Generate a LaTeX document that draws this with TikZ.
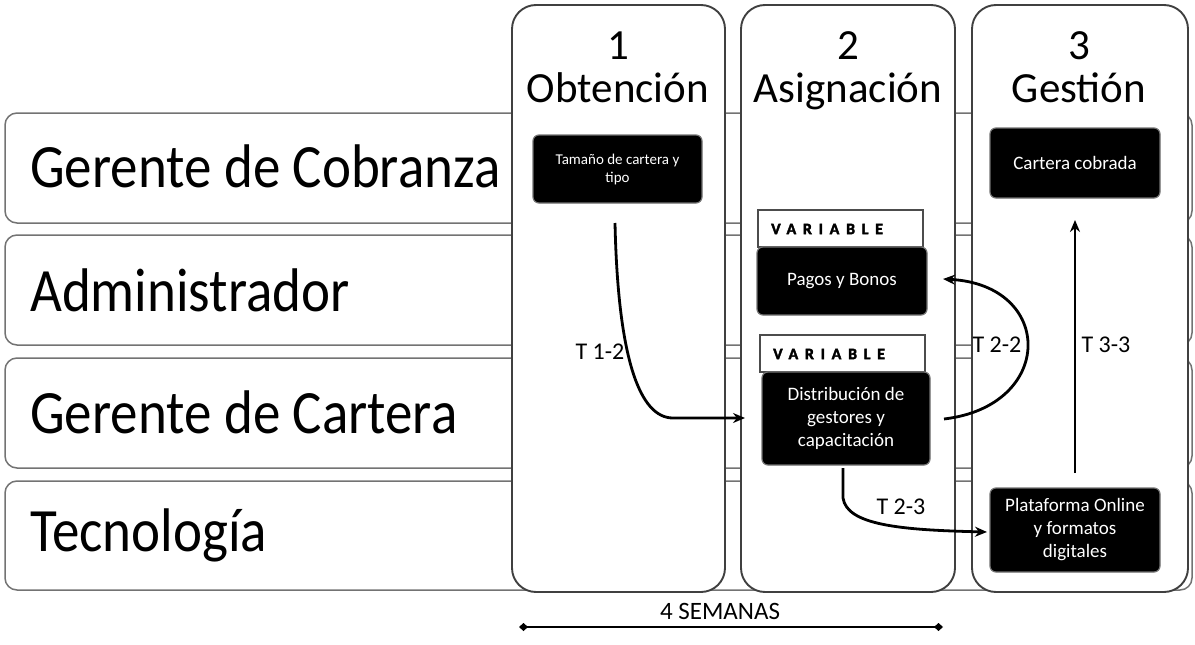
\documentclass[tikz,border=0pt]{standalone}
\usepackage{fontspec}
\setmainfont{Carlito}
\usetikzlibrary{arrows.meta}
\begin{document}
\begin{tikzpicture}[x=1pt,y=-1pt,
  lanebox/.style={draw=black!55, line width=1.5pt, rounded corners=12pt},
  colbox/.style={draw=black!75, line width=1.9pt, fill=white, rounded corners=24pt},
  lanelabel/.style={anchor=west, inner sep=0pt, font=\fontsize{55}{60}\selectfont},
  head/.style={anchor=base, inner sep=0pt, font=\fontsize{43}{46}\selectfont},
  blk/.style={fill=black, draw=black!55, line width=1.2pt, rounded corners=6pt, text=white,
    align=center, inner sep=2pt, font=\fontsize{19}{23}\selectfont},
  varbox/.style={draw=black!70, line width=1.6pt, fill=white, minimum width=165pt,
    minimum height=37pt, inner sep=0pt},
  vartext/.style={anchor=west, inner sep=0pt,
    font=\fontsize{16}{18}\selectfont\bfseries\addfontfeatures{LetterSpace=42,FakeBold=2.5}},
  conn/.style={line width=2.8pt, -{Stealth[length=12pt,width=10pt]}},
  tlab/.style={inner sep=0pt, font=\fontsize{24}{26}\selectfont}
]
\useasboundingbox (0,0) rectangle (1195,645);

% lanes
\draw[lanebox] (5,113) rectangle (1192,223);
\draw[lanebox] (5,235) rectangle (1192,345);
\draw[lanebox] (5,358) rectangle (1192,468);
\draw[lanebox] (5,481) rectangle (1192,590);

% columns
\draw[colbox] (512,5) rectangle (725,592);
\draw[colbox] (741,5) rectangle (955,592);
\draw[colbox] (972,5) rectangle (1188,592);

% lane labels
\node[lanelabel] (l1) at (30,166) {\scalebox{1}[1.12]{Gerente de Cobranza}};
\node[lanelabel] (l2) at (30,290) {\scalebox{1}[1.12]{Administrador}};
\node[lanelabel] (l3) at (30,412) {\scalebox{1}[1.12]{Gerente de Cartera}};
\node[lanelabel] (l4) at (30,535) {\scalebox{1}[1.12]{Tecnología}};

% headers
\node[head] (n1) at (618,59) {1};
\node[head] (h1) at (618,102) {Obtención};
\node[head] (n2) at (848,59) {2};
\node[head] (h2) at (848,102) {Asignación};
\node[head] (n3) at (1079,59) {3};
\node[head] (h3) at (1079,102) {Gestión};

% boxes
\node[blk, minimum width=169pt, minimum height=68pt, font=\fontsize{15}{18}\selectfont] (tam) at (617.5,169) {Tamaño de cartera y\\tipo};
\node[varbox] (v1) at (840.5,228.5) {};
\node[vartext] (v1t) at (771,229) {VARIABLE};
\node[blk, minimum width=170pt, minimum height=68pt] (pag) at (842,281) {Pagos y Bonos};
\node[varbox] (v2) at (842.5,353.5) {};
\node[vartext] (v2t) at (773,354) {VARIABLE};
\node[blk, minimum width=168pt, minimum height=93pt] (dis) at (846,418.5) {Distribución de\\gestores y\\capacitación};
\node[blk, minimum width=170pt, minimum height=70pt] (cob) at (1075,163) {Cartera cobrada};
\node[blk, minimum width=170pt, minimum height=84pt] (pla) at (1075,530) {Plataforma Online\\y formatos\\digitales};

% connector endpoints
\coordinate (a1) at (615,223);
\coordinate (a2) at (745,418);
\coordinate (b1) at (944,419);
\coordinate (b2) at (943,279);
\coordinate (c1) at (843,468);
\coordinate (c2) at (987,532);
\coordinate (d1) at (1075,473);
\coordinate (d2) at (1075,220);

\draw[conn] (a1) .. controls (618,360) and (640,418) .. (673,418) -- (a2);
\draw[conn] (b1) .. controls (1055,406) and (1055,285) .. (b2);
\draw[conn] (c1) -- (843,498) .. controls (847,525) and (900,530) .. (c2);
\draw[conn] (d1) -- (d2);

\node[tlab] (t12) at (600,352) {T 1-2};
\node[tlab] (t22) at (997,345) {T 2-2};
\node[tlab] (t23) at (901,507) {T 2-3};
\node[tlab] (t33) at (1106,345) {T 3-3};

% 4 semanas
\coordinate (s1) at (519,627);
\coordinate (s2) at (943,627);
\draw[line width=2.8pt, {Diamond[length=9pt,width=8pt]}-{Diamond[length=9pt,width=8pt]}] (s1) -- (s2);
\node[inner sep=0pt, font=\fontsize{25}{27}\selectfont] (sem) at (720,611) {4 SEMANAS};
\end{tikzpicture}
\end{document}
